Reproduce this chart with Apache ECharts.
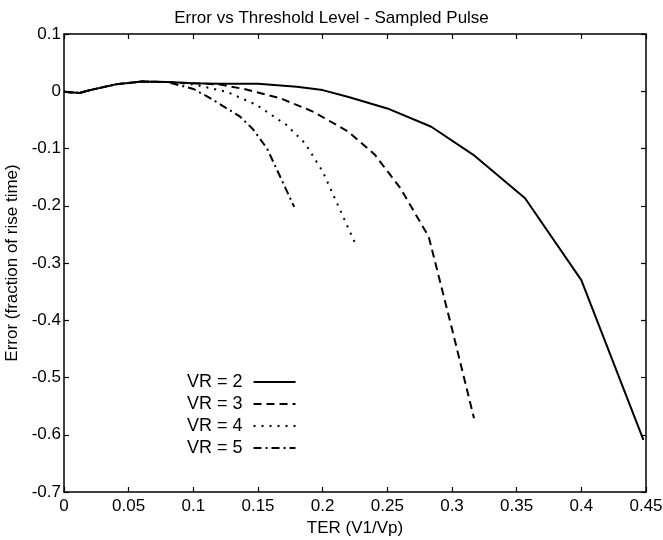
<!DOCTYPE html>
<html><head><meta charset="utf-8">
<script src="https://cdn.jsdelivr.net/npm/echarts@6/dist/echarts.min.js"></script>
<style>html,body{margin:0;padding:0;background:#fff}#c{width:663px;height:540px}</style>
</head><body><div id="c"></div>
<script>
const titleText = 'Error vs Threshold Level - Sampled Pulse';
const xName = 'TER (V1/Vp)';
const yName = 'Error (fraction of rise time)';
const seriesNames = ['VR = 2', 'VR = 3', 'VR = 4', 'VR = 5'];

const vr2X = [0, 0.012, 0.02, 0.04, 0.06, 0.08, 0.1, 0.12, 0.15, 0.18, 0.2, 0.22, 0.25, 0.284, 0.3165, 0.3565, 0.4, 0.448];
const vr2Y = [-0.001, -0.003, 0.002, 0.012, 0.017, 0.016, 0.014, 0.013, 0.013, 0.008, 0.002, -0.01, -0.03, -0.062, -0.111, -0.187, -0.33, -0.609];

const vr3X = [0, 0.012, 0.02, 0.04, 0.06, 0.08, 0.1, 0.12, 0.139, 0.167, 0.193, 0.22, 0.24, 0.26, 0.282, 0.3, 0.317];
const vr3Y = [-0.001, -0.003, 0.002, 0.012, 0.017, 0.016, 0.014, 0.012, 0.004, -0.012, -0.036, -0.071, -0.11, -0.169, -0.254, -0.415, -0.571];

const vr4X = [0, 0.012, 0.02, 0.04, 0.06, 0.08, 0.1, 0.126, 0.149, 0.172, 0.186, 0.2, 0.225];
const vr4Y = [-0.001, -0.003, 0.002, 0.012, 0.017, 0.016, 0.012, -0.001, -0.024, -0.059, -0.09, -0.14, -0.265];

const vr5X = [0, 0.012, 0.02, 0.04, 0.06, 0.08, 0.1, 0.113, 0.136, 0.146, 0.157, 0.178];
const vr5Y = [-0.001, -0.003, 0.002, 0.012, 0.017, 0.016, 0.004, -0.012, -0.044, -0.066, -0.1, -0.202];

const xTicks = [0, 0.05, 0.1, 0.15, 0.2, 0.25, 0.3, 0.35, 0.4, 0.45];
const yTicks = [-0.7, -0.6, -0.5, -0.4, -0.3, -0.2, -0.1, 0, 0.1];

const pairs = (xs, ys) => xs.map((x, i) => [x, ys[i]]);
const font = 'Liberation Sans, Arial, Helvetica, sans-serif';
const styles = [
  {type: 'solid', width: 2},
  {type: [8, 5], width: 2},
  {type: [2, 6], width: 2},
  {type: [8, 4, 2, 4], width: 2}
];
const datas = [pairs(vr2X, vr2Y), pairs(vr3X, vr3Y), pairs(vr4X, vr4Y), pairs(vr5X, vr5Y)];

const chart = echarts.init(document.getElementById('c'), null, {renderer: 'canvas'});
const axisLine = {show: true, onZero: false, lineStyle: {color: '#000', width: 1.5}};
const tick = {show: true, inside: true, length: 5, lineStyle: {color: '#000', width: 1.2}};
const fmt = list => v => { const t = list.find(k => Math.abs(k - v) < 1e-9); return t === undefined ? '' : String(t); };
chart.setOption({
  animation: false,
  backgroundColor: '#fff',
  title: {text: titleText, left: 'center', top: 5,
    textStyle: {fontFamily: font, fontSize: 17, fontWeight: 'normal', color: '#000'}},
  grid: {left: 64, right: 17, top: 34, bottom: 48, containLabel: false, outerBoundsMode: 'none'},
  legend: {
    orient: 'vertical', left: 182, top: 368, align: 'right',
    itemWidth: 42, itemHeight: 14, itemGap: 4,
    itemStyle: {opacity: 0, borderWidth: 0},
    textStyle: {fontFamily: font, fontSize: 18, color: '#000', padding: [0, 6, 0, 0]},
    data: seriesNames
  },
  xAxis: [{
    type: 'value', min: 0, max: 0.45, interval: 0.05,
    name: xName, nameLocation: 'middle', nameGap: 25,
    nameTextStyle: {fontFamily: font, fontSize: 17, color: '#000'},
    axisLine: axisLine, axisTick: tick, splitLine: {show: false},
    axisLabel: {fontFamily: font, fontSize: 17, color: '#000', margin: 6, formatter: fmt(xTicks)}
  }, {
    type: 'value', position: 'top', min: 0, max: 0.45, interval: 0.05,
    axisLine: axisLine, axisTick: tick, axisLabel: {show: false}, splitLine: {show: false}
  }],
  yAxis: [{
    type: 'value', min: -0.7, max: 0.1, interval: 0.1,
    name: yName, nameLocation: 'middle', nameGap: 35, nameRotate: 90,
    nameTextStyle: {fontFamily: font, fontSize: 17, color: '#000'},
    axisLine: axisLine, axisTick: tick, splitLine: {show: false},
    axisLabel: {fontFamily: font, fontSize: 17, color: '#000', margin: 3, formatter: fmt(yTicks)}
  }, {
    type: 'value', position: 'right', min: -0.7, max: 0.1, interval: 0.1,
    axisLine: axisLine, axisTick: tick, axisLabel: {show: false}, splitLine: {show: false}
  }],
  series: seriesNames.map((n, i) => ({
    name: n, type: 'line', data: datas[i], symbol: 'none', showSymbol: false,
    smooth: false, color: '#000',
    lineStyle: Object.assign({color: '#000'}, styles[i])
  }))
});
</script></body></html>
